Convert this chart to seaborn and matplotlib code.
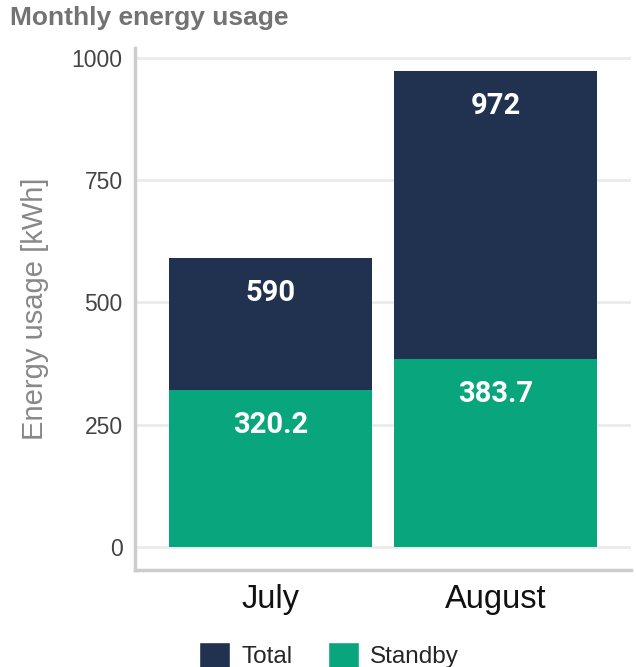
import pandas as pd
import numpy as np
import matplotlib
matplotlib.use("Agg")
import matplotlib.pyplot as plt
import seaborn as sns
from matplotlib.patches import Patch

# Data
months = ["July", "August"]
total = [590, 972]
standby = [320.2, 383.7]

navy = "#203250"
green = "#09a57c"

df = pd.DataFrame({"month": months, "total": total, "standby": standby})

sns.set_style("white")
plt.rcParams["font.family"] = ["Liberation Sans", "DejaVu Sans"]

fig = plt.figure(figsize=(6.36, 6.67), dpi=100)
ax = fig.add_axes([135 / 636, 1 - 570 / 667, (631 - 135) / 636, (570 - 48) / 667])

# total bars first, standby overlaid on top
sns.barplot(data=df, x="month", y="total", order=months, color=navy,
            width=0.9, saturation=1, linewidth=0, ax=ax, zorder=2)
sns.barplot(data=df, x="month", y="standby", order=months, color=green,
            width=0.9, saturation=1, linewidth=0, ax=ax, zorder=3)

# value labels inside the top of each segment
for i in range(len(months)):
    for v in (total[i], standby[i]):
        ax.text(i, v - 70, f"{v:g}", ha="center", va="center", color="white",
                fontsize=21, fontweight="bold", family="Roboto", zorder=5)

ax.set_ylim(-47, 1020)
ax.set_xlim(-0.6, 1.6)
ax.set_yticks([0, 250, 500, 750, 1000])
ax.yaxis.grid(True, color="#ebebeb", linewidth=2, zorder=0)
ax.set_axisbelow(True)

for s in ["top", "right"]:
    ax.spines[s].set_visible(False)
for s in ["left", "bottom"]:
    ax.spines[s].set_color("#cccccc")
    ax.spines[s].set_linewidth(2.5)

ax.tick_params(axis="y", length=0, pad=9, labelsize=16.5, labelcolor="#444444")
ax.tick_params(axis="x", length=0, pad=10, labelsize=23.5, labelcolor="#111111")
ax.set_xlabel("")
ax.set_ylabel("Energy usage [kWh]", fontsize=21, color="#888888", labelpad=16)

fig.text(10 / 636, 1 - 18 / 667, "Monthly energy usage", fontsize=19,
         fontweight="bold", color="#737373", ha="left", va="center")

handles = [Patch(facecolor=navy, label="Total"), Patch(facecolor=green, label="Standby")]
fig.legend(handles=handles, loc="center", bbox_to_anchor=(329 / 636, 1 - 655 / 667),
           ncol=2, frameon=False, fontsize=17.5, handlelength=1.3, handleheight=1.3,
           handletextpad=0.45, columnspacing=1.45)

plt.savefig("out.png", dpi=100)
